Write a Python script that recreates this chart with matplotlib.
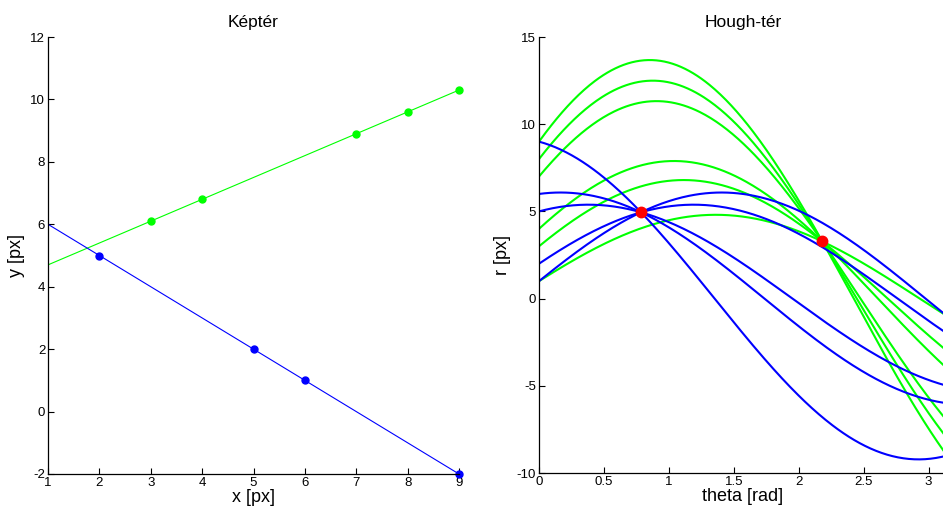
import numpy as np
import matplotlib
matplotlib.use('Agg')
import matplotlib.pyplot as plt

plt.rcParams['font.family'] = ['Liberation Sans', 'DejaVu Sans']
plt.rcParams['axes.unicode_minus'] = False

# points of the two lines in image space
green_x = [1, 3, 4, 7, 8, 9]
green_y = [4.7, 6.1, 6.8, 8.9, 9.6, 10.3]
blue_x = [1, 2, 5, 6, 9]
blue_y = [6, 5, 2, 1, -2]

# detected lines in Hough space (theta, r)
peak_theta = [0.785, 2.181]
peak_r = [4.95, 3.277]

theta = np.linspace(0, np.pi, 300)

fig = plt.figure(figsize=(9.43, 5.12), dpi=100)

def style(ax):
    ax.spines['top'].set_visible(False)
    ax.spines['right'].set_visible(False)
    ax.tick_params(direction='in', length=4, labelsize=9.5, pad=2)
    for s in ('left', 'bottom'):
        ax.spines[s].set_linewidth(0.9)

ax1 = fig.add_axes([48/943, 38/512, 411/943, 437/512])
ax1.plot(green_x, green_y, color=(0, 1, 0), lw=0.8)
ax1.plot(blue_x, blue_y, color=(0, 0, 1), lw=0.8)
ax1.plot(green_x[1:], green_y[1:], 'o', color=(0, 1, 0), ms=5, clip_on=False)
ax1.plot(blue_x[1:], blue_y[1:], 'o', color=(0, 0, 1), ms=5, clip_on=False)
ax1.set_xlim(1, 9)
ax1.set_ylim(-2, 12)
ax1.set_xticks(range(1, 10))
ax1.set_yticks(range(-2, 13, 2))
ax1.set_title('Képtér', fontsize=12.5, pad=7)
ax1.set_xlabel('x [px]', fontsize=13, labelpad=0)
ax1.set_ylabel('y [px]', fontsize=13, labelpad=4)
style(ax1)

ax2 = fig.add_axes([539/943, 39/512, 408/943, 436/512])
for x, y in zip(green_x, green_y):
    ax2.plot(theta, x*np.cos(theta) + y*np.sin(theta), color=(0, 1, 0), lw=1.5)
for x, y in zip(blue_x, blue_y):
    ax2.plot(theta, x*np.cos(theta) + y*np.sin(theta), color=(0, 0, 1), lw=1.5)
ax2.plot(peak_theta, peak_r, 'o', color=(1, 0, 0), ms=7.5)
ax2.set_xlim(0, np.pi)
ax2.set_ylim(-10, 15)
ax2.set_xticks(np.arange(0, 3.1, 0.5))
ax2.set_xticklabels(['0', '0.5', '1', '1.5', '2', '2.5', '3'])
ax2.set_yticks(range(-10, 16, 5))
ax2.set_title('Hough-tér', fontsize=12.5, pad=7)
ax2.set_xlabel('theta [rad]', fontsize=13, labelpad=0)
ax2.set_ylabel('r [px]', fontsize=13, labelpad=4)
style(ax2)

fig.savefig('out.png', dpi=100)
